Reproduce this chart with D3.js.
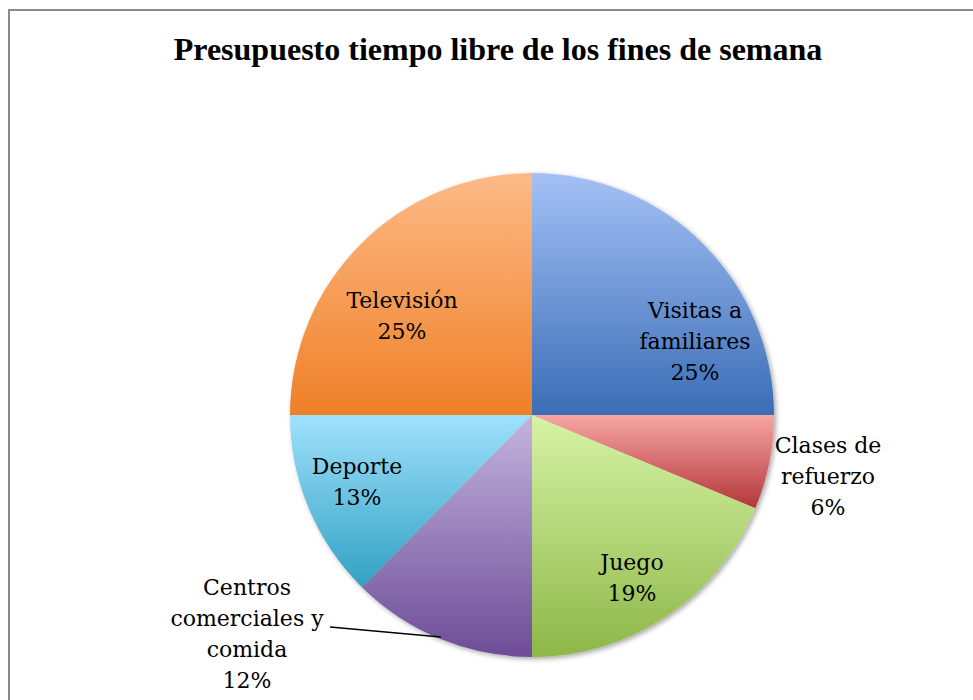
<!DOCTYPE html>
<html>
<head>
<meta charset="utf-8">
<script src="https://cdn.jsdelivr.net/npm/d3@7"></script>
<style>
  body { margin: 0; background: #fff; }
  svg { display: block; }
</style>
</head>
<body>
<div id="chart"></div>
<script>
// data
const categories = ["Visitas a familiares", "Clases de refuerzo", "Juego",
  "Centros comerciales y comida", "Deporte", "Televisión"];
const values = [25.0, 6.3, 18.7, 12.4, 12.6, 25.0];
// label lines (text broken like the original)
const labelLines = [
  ["Visitas a", "familiares"],
  ["Clases de", "refuerzo"],
  ["Juego"],
  ["Centros", "comerciales y", "comida"],
  ["Deporte"],
  ["Televisión"]
];

// styling: top / bottom colour of each slice gradient
const colorsTop = ["#a4c1f6", "#f7a5a4", "#d7f3a5", "#c4b4df", "#9fe1fc", "#fdba87"];
const colorsBottom = ["#3a6db6", "#b3363a", "#8db748", "#6d4c96", "#31a1c3", "#ef8027"];

const WIDTH = 973, HEIGHT = 700;
const CX = 532, CY = 415, R = 242;
const LINE_H = 31;
// label block centres, relative to pie centre
const labelOffsets = [[163, -74], [296, 61], [100, 163], [-285, 219], [-175, 67], [-130, -99]];

const svg = d3.select("#chart").append("svg")
  .attr("width", WIDTH)
  .attr("height", HEIGHT);

// outer frame
svg.append("rect")
  .attr("x", 9).attr("y", 10)
  .attr("width", 980).attr("height", 720)
  .attr("fill", "none")
  .attr("stroke", "#8a8a8a")
  .attr("stroke-width", 2);

svg.append("text")
  .attr("x", 498).attr("y", 60)
  .attr("text-anchor", "middle")
  .style("font-family", "'Liberation Serif', 'Times New Roman', serif")
  .style("font-weight", "bold")
  .style("font-size", "32px")
  .text("Presupuesto tiempo libre de los fines de semana");

const defs = svg.append("defs");

const shadow = defs.append("filter").attr("id", "shadow")
  .attr("x", "-10%").attr("y", "-10%").attr("width", "120%").attr("height", "120%");
shadow.append("feDropShadow")
  .attr("dx", 2).attr("dy", 2).attr("stdDeviation", 2.5)
  .attr("flood-color", "#000").attr("flood-opacity", 0.35);

categories.forEach(function(c, i) {
  const g = defs.append("linearGradient")
    .attr("id", "grad" + i)
    .attr("x1", 0).attr("y1", 0).attr("x2", 0).attr("y2", 1);
  g.append("stop").attr("offset", 0).attr("stop-color", colorsTop[i]);
  g.append("stop").attr("offset", 1).attr("stop-color", colorsBottom[i]);
});

const data = categories.map(function(c, i) {
  return { name: c, value: values[i], lines: labelLines[i], idx: i };
});
const total = d3.sum(values);
const fmt = d3.format(".0%");

const pie = d3.pie().sort(null).value(function(d) { return d.value; });
const arc = d3.arc().innerRadius(0).outerRadius(R);

const pieG = svg.append("g")
  .attr("transform", `translate(${CX},${CY})`)
  .attr("filter", "url(#shadow)");

pieG.selectAll("path.slice")
  .data(pie(data))
  .enter()
  .append("path")
  .attr("class", "slice")
  .attr("d", arc)
  .attr("fill", function(d) { return "url(#grad" + d.data.idx + ")"; });

// leader line for "Centros comerciales y comida"
const centros = pie(data)[3];
const leaderArc = d3.arc().innerRadius(R - 2).outerRadius(R - 2);
const lp = leaderArc.centroid(centros);
svg.append("path")
  .attr("d", d3.line()([[CX + labelOffsets[3][0] + 83, CY + labelOffsets[3][1] - 7], [CX + lp[0], CY + lp[1]]]))
  .attr("stroke", "#000")
  .attr("stroke-width", 1.5)
  .attr("fill", "none");

const labels = svg.append("g")
  .style("font-family", "'DejaVu Serif', Cambria, serif")
  .style("font-size", "22px")
  .attr("text-anchor", "middle")
  .attr("fill", "#000");

data.forEach(function(d, i) {
  const lines = d.lines.concat([fmt(d.value / total)]);
  const x = CX + labelOffsets[i][0];
  const y0 = CY + labelOffsets[i][1] - (lines.length - 1) * LINE_H / 2;
  const t = labels.append("text").attr("x", x).attr("y", y0);
  lines.forEach(function(l, j) {
    t.append("tspan")
      .attr("x", x)
      .attr("y", y0 + j * LINE_H)
      .attr("dy", "0.35em")
      .text(l);
  });
});
</script>
</body>
</html>
